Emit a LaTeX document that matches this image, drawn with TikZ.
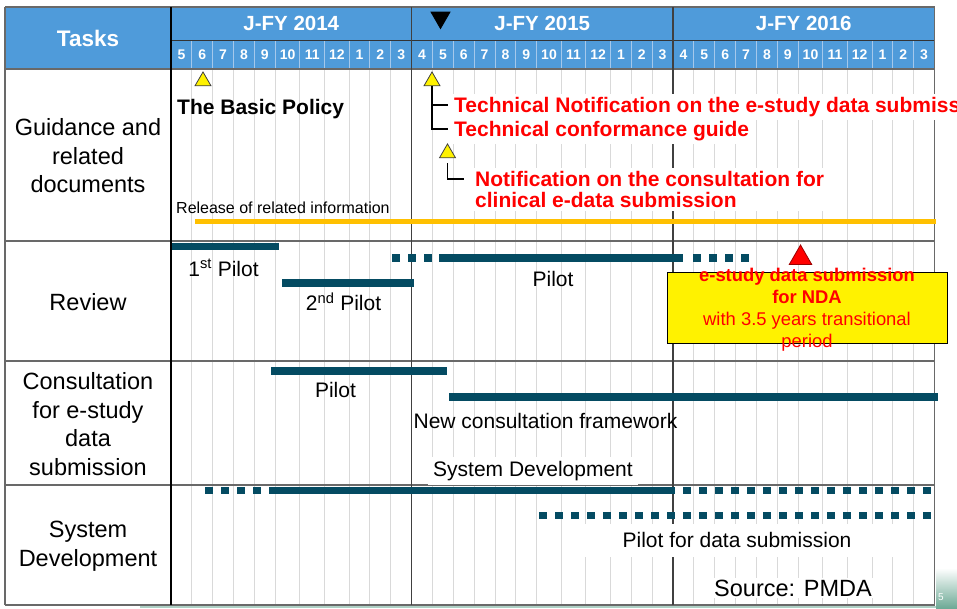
\documentclass[tikz,border=0pt]{standalone}
\usepackage{fontspec}
\setmainfont{Liberation Sans}
\usepackage{xcolor}
\usetikzlibrary{shapes.geometric}

\definecolor{headblue}{RGB}{79,155,218}
\definecolor{headsep}{RGB}{165,200,235}
\definecolor{gridgray}{RGB}{217,217,217}
\definecolor{rulegray}{RGB}{105,105,105}
\definecolor{barblue}{RGB}{4,75,98}
\definecolor{planorange}{RGB}{255,192,0}
\definecolor{notered}{RGB}{255,0,0}
\definecolor{footgreen}{RGB}{110,170,150}

\begin{document}
\begin{tikzpicture}[x=1pt, y=-1pt,
    every node/.style={inner sep=2pt},
    bar/.style={line width=7.5pt, barblue},
    dots/.style={line width=7.5pt, barblue, dash pattern=on 8pt off 8pt},
    tri/.style={regular polygon, regular polygon sides=3, inner sep=0pt, minimum size=18.5pt, draw=black!75, line width=0.8pt},
    mon/.style={text=white, font=\bfseries\fontsize{14}{16}\selectfont},
    yr/.style={text=white, font=\bfseries\fontsize{20.5}{24}\selectfont},
    task/.style={align=center, font=\fontsize{23.5}{28.5}\selectfont},
    lab/.style={font=\fontsize{21}{25}\selectfont},
    redlab/.style={text=notered, fill=white, inner ysep=3pt, align=left, font=\bfseries\fontsize{21}{21}\selectfont}]

    \useasboundingbox (0,0) rectangle (957,608);

    % header
    \fill[headblue] (5,7) rectangle (934.5,69);
    \foreach \x in {191.85,212.7,233.55,254.4,275.25,299.85,324.45,349.05,369.9,390.75,
                    432.45,453.3,474.15,495.0,515.85,536.7,561.3,585.9,610.5,631.35,652.2,
                    693.9,714.75,735.6,756.45,777.3,798.15,822.75,847.35,871.95,892.8,913.65} {
        \draw[headsep, line width=0.9pt] (\x,40) -- (\x,69);
        \draw[gridgray, line width=0.9pt] (\x,69) -- (\x,605);
    }

    % table rules
    \draw[rulegray, line width=1.2pt] (5,7) -- (934.5,7);
    \draw[black!80, line width=1pt] (171,40) -- (934.5,40);
    \foreach \y in {69,241,361,485,605}
        \draw[rulegray, line width=1.5pt] (5,\y) -- (934.5,\y);
    \draw[rulegray, line width=1.5pt] (5,7) -- (5,605);
    \draw[rulegray, line width=1.5pt] (934.5,7) -- (934.5,605);
    \draw[black, line width=1.2pt] (171,7) -- (171,605);
    \draw[black!75, line width=1.2pt] (411.6,7) -- (411.6,605);
    \draw[black!75, line width=1.2pt] (673.05,7) -- (673.05,605);

    % slide footer
    \fill[footgreen!55] (140,605.8) rectangle (957,608);
    \shade[top color=white, bottom color=footgreen] (936,568) rectangle (957,608);
    \node[text=white, font=\fontsize{10}{12}\selectfont] (pagenum) at (941,597) {5};

    \node[text=white, font=\bfseries\fontsize{22.5}{26}\selectfont] (tasks) at (88,38) {Tasks};
    \node[yr] (fy14) at (291.3,23.5) {J-FY 2014};
    \node[yr] (fy15) at (542.3,23.5) {J-FY 2015};
    \node[yr] (fy16) at (803.8,23.5) {J-FY 2016};
    \foreach \m/\x [count=\i] in {5/181.4,6/202.3,7/223.1,8/244.0,9/264.8,10/287.6,11/312.2,12/336.8,1/359.5,2/380.3,3/401.2,
                                 4/422.0,5/442.9,6/463.7,7/484.6,8/505.4,9/526.3,10/549.0,11/573.6,12/598.2,1/620.9,2/641.8,3/662.6,
                                 4/683.5,5/704.3,6/725.2,7/746.0,8/766.9,9/787.7,10/810.5,11/835.1,12/859.7,1/882.4,2/903.2,3/924.1}
        \node[mon] (mon\i) at (\x,55) {\m};
    \node[tri, fill=black, draw=black, shape border rotate=180, minimum size=22pt] (now) at (440.5,17.5) {};

    % task column
    \node[task] (guide) at (88,156) {Guidance and\\related\\documents};
    \node[task] (review) at (88,302) {Review};
    \node[task] (consult) at (88,424) {Consultation\\for e-study\\data\\submission};
    \node[task] (system) at (88,546) {System\\Development};

    % guidance and related documents
    \node[tri, fill=yellow] (tbasic) at (203,81.2) {};
    \node[anchor=west, font=\bfseries\fontsize{21}{25}\selectfont] (basic) at (175,109.5) {The Basic Policy};
    \node[tri, fill=yellow] (ttech) at (432,81.2) {};
    \node[redlab, anchor=west] (technote) at (452,107) {Technical Notification on the e-study data submission};
    \node[redlab, anchor=west] (techguide) at (452,131) {Technical conformance guide};
    \draw[line width=1.1pt, shorten >=4pt] (ttech.south) |- ([yshift=2pt]technote.west);
    \draw[line width=1.1pt, shorten >=4pt] (ttech.south) |- ([yshift=2pt]techguide.west);
    \node[tri, fill=yellow] (tcons) at (447.5,153.2) {};
    \node[redlab, anchor=west] (consnote) at (473,189.5) {Notification on the consultation for\\clinical e-data submission};
    \draw[line width=1.1pt, shorten <=5pt, shorten >=9pt] (tcons.south) |- ([yshift=10.5pt]consnote.west);
    \node[anchor=west, font=\fontsize{16}{19}\selectfont] (release) at (174,208) {Release of related information};
    \draw[planorange, line width=5pt] (195,221) -- (936,221);

    % review
    \draw[bar] (172,246.5) -- (279,246.5);
    \draw[bar] (282,283) -- (414,283);
    \draw[dots] (392,258) -- (432,258);
    \draw[bar] (439,258) -- (683,258);
    \draw[dots] (693,258) -- (749,258);
    \node[lab] (pilot1) at (223.5,268) {1\textsuperscript{st} Pilot};
    \node[lab] (pilot2) at (343.5,302) {2\textsuperscript{nd} Pilot};
    \node[lab] (pilot3) at (553,279) {Pilot};
    \node[tri, fill=red, draw=red!60!black, minimum size=26pt] (tnda) at (800.5,258) {};
    \node[draw=black, line width=1pt, fill=yellow, minimum width=280pt, minimum height=71pt] (ndabox) at (807,307.5) {};
    \node[text=notered, align=center, font=\fontsize{18.4}{22}\selectfont] (ndatext) at (807,310)
        {\textbf{e-study data submission}\\\textbf{for NDA}\\with 3.5 years transitional\\period};

    % consultation
    \draw[bar] (271,371) -- (447,371);
    \node[lab] (conspilot) at (335.5,390) {Pilot};
    \draw[bar] (449,397) -- (938,397);
    \node[lab] (newcons) at (545.5,421) {New consultation framework};
    \node[lab, fill=white, inner xsep=5pt, inner ysep=4pt] (sysdev) at (533,471) {System Development};

    % system development
    \draw[dots] (205,490.5) -- (261,490.5);
    \draw[bar] (269,490.5) -- (675,490.5);
    \draw[bar, dash pattern=on 7.5pt off 8.5pt] (683,490.5) -- (931,490.5);
    \draw[bar, dash pattern=on 7.5pt off 8.5pt] (539,515.5) -- (931,515.5);
    \node[lab, fill=white, minimum width=316pt, minimum height=33pt] (pilotdata) at (737,540) {Pilot for data submission};
    \node[fill=white, font=\fontsize{23.5}{28}\selectfont] (source) at (793,588) {Source: PMDA};
\end{tikzpicture}
\end{document}
